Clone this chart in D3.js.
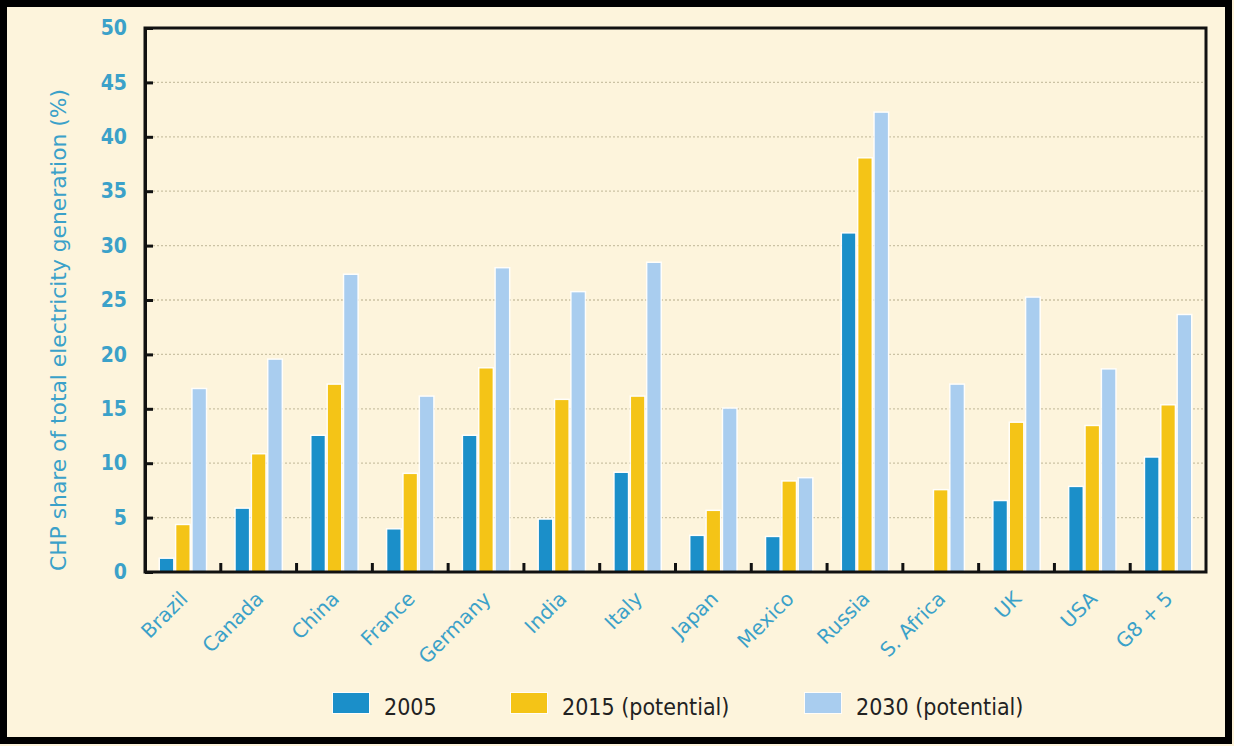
<!DOCTYPE html>
<html><head><meta charset="utf-8">
<script src="https://cdn.jsdelivr.net/npm/d3@7/dist/d3.min.js"></script>
<style>
html,body{margin:0;padding:0;background:#fdf4dc;}
svg{display:block;}
</style></head>
<body>
<svg id="chart" width="1234" height="746"></svg>
<script>
const categories = ["Brazil","Canada","China","France","Germany","India","Italy","Japan","Mexico","Russia","S. Africa","UK","USA","G8 + 5"];
const series = ["2005","2015 (potential)","2030 (potential)"];
const values2005 = [1.2, 5.8, 12.5, 3.9, 12.5, 4.8, 9.1, 3.3, 3.2, 31.1, 0, 6.5, 7.8, 10.5];
const values2015 = [4.3, 10.8, 17.2, 9.0, 18.7, 15.8, 16.1, 5.6, 8.3, 38.0, 7.5, 13.7, 13.4, 15.3];
const values2030 = [16.8, 19.5, 27.3, 16.1, 27.9, 25.7, 28.4, 15.0, 8.6, 42.2, 17.2, 25.2, 18.6, 23.6];
const yTicks = [0,5,10,15,20,25,30,35,40,45,50];
const colors = ["#1b8fc9","#f4c417","#a9cdef"];

const svg = d3.select("#chart");
const W = 1234, H = 746;
const m = {left:145, right:1206, top:28, bottom:572};
const FONT = "'DejaVu Sans',Verdana,sans-serif";
const FONTC = "'DejaVu Sans Condensed','DejaVu Sans',sans-serif";
const LBL = "#3ba1c9";

svg.append("rect").attr("x",0).attr("y",0).attr("width",W).attr("height",H).attr("fill","#fdf4dc");

const x = d3.scaleBand().domain(categories).range([m.left, m.right]);
const x1 = d3.scaleBand().domain(series).range([15, x.bandwidth()-15]).paddingInner(0.2);
const y = d3.scaleLinear().domain([0,50]).range([m.bottom, m.top]);

// gridlines
svg.append("g").selectAll("line").data(yTicks.filter(d=>d>0 && d<50)).join("line")
  .attr("x1", m.left).attr("x2", m.right)
  .attr("y1", d=>y(d)).attr("y2", d=>y(d))
  .attr("stroke","#cbc2a4").attr("stroke-width",1.3).attr("stroke-dasharray","2,2");

// bars (white glow underneath, then fill)
const data = [values2005, values2015, values2030];
const g = svg.append("g");
[true,false].forEach(glow=>{
  categories.forEach((c,i)=>{
    series.forEach((s,j)=>{
      const v = data[j][i];
      if (v <= 0) return;
      const r = g.append("rect")
        .attr("x", x(c)+x1(s)).attr("width", x1.bandwidth())
        .attr("y", y(v)).attr("height", y(0)-y(v))
        .attr("fill", colors[j]);
      if (glow) r.attr("stroke","#ffffff").attr("stroke-opacity",0.85).attr("stroke-width",3);
    });
  });
});

// plot frame
svg.append("rect").attr("x",m.left).attr("y",m.top).attr("width",m.right-m.left).attr("height",m.bottom-m.top)
  .attr("fill","none").attr("stroke","#111").attr("stroke-width",3);

// y axis
const yAxis = d3.axisLeft(y).tickValues(yTicks).tickSizeInner(-8).tickSizeOuter(0).tickPadding(18);
const ya = svg.append("g").attr("transform",`translate(${m.left},0)`).call(yAxis);
ya.select(".domain").attr("stroke","#111").attr("stroke-width",3);
ya.selectAll(".tick line").attr("stroke","#111").attr("stroke-width",3);
ya.selectAll(".tick text").attr("fill",LBL).attr("font-family",FONTC)
  .attr("font-size",21).attr("font-weight","bold");

// x axis
const xAxis = d3.axisBottom(x).tickSize(0).tickPadding(0);
const xa = svg.append("g").attr("transform",`translate(0,${m.bottom})`).call(xAxis);
xa.select(".domain").remove();
xa.selectAll(".tick text")
  .attr("fill",LBL).attr("font-family",FONT)
  .attr("font-size",20)
  .attr("text-anchor","end").attr("dy",0).attr("y",0)
  .attr("transform","translate(6,28) rotate(-45)");
// boundary ticks (inward)
svg.append("g").selectAll("line").data(categories.slice(1)).join("line")
  .attr("x1", d=>x(d)).attr("x2", d=>x(d))
  .attr("y1", m.bottom).attr("y2", m.bottom-9)
  .attr("stroke","#111").attr("stroke-width",3);

// y label
svg.append("text")
  .attr("transform",`translate(66,${330}) rotate(-90)`)
  .attr("text-anchor","middle")
  .attr("fill",LBL).attr("font-family",FONT)
  .attr("font-size",21)
  .attr("textLength",482).attr("lengthAdjust","spacingAndGlyphs")
  .text("CHP share of total electricity generation (%)");

// legend
const legX = [333, 511, 805];
const lg = svg.append("g");
series.forEach((s,j)=>{
  lg.append("rect").attr("x",legX[j]).attr("y",693).attr("width",36).attr("height",20)
    .attr("fill",colors[j]).attr("stroke","#fff").attr("stroke-opacity",0.8).attr("stroke-width",2).attr("paint-order","stroke");
  lg.append("text").attr("x",legX[j]+51).attr("y",715)
    .attr("fill","#222").attr("font-family",FONTC)
    .attr("font-size",23).text(s);
});

// outer border
svg.append("rect").attr("x",3.5).attr("y",3.5).attr("width",W-9).attr("height",H-9)
  .attr("fill","none").attr("stroke","#000").attr("stroke-width",7);
</script>
</body></html>
